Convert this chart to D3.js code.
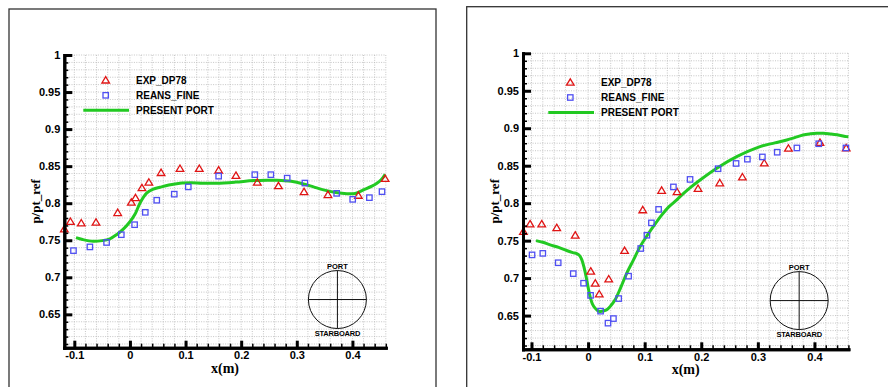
<!DOCTYPE html>
<html>
<head>
<meta charset="utf-8">
<script src="https://cdn.jsdelivr.net/npm/d3@7"></script>
<style>
body { margin: 0; background: #fff; }
svg { display: block; }
</style>
</head>
<body>
<svg width="888" height="387"></svg>
<script>
// ---- data ----
var xTicks = [-0.1, 0, 0.1, 0.2, 0.3, 0.4];
var yTicks = [0.65, 0.7, 0.75, 0.8, 0.85, 0.9, 0.95, 1];
var seriesNames = ["EXP_DP78", "REANS_FINE", "PRESENT PORT"];

// left panel
var leftExpX = [-0.118, -0.107, -0.0875, -0.061, -0.022, 0.0025, 0.010, 0.0216, 0.034, 0.056, 0.090, 0.1247, 0.1595, 0.1906, 0.229, 0.267, 0.313, 0.356, 0.4107, 0.4588];
var leftExpY = [0.765, 0.775, 0.773, 0.774, 0.787, 0.801, 0.807, 0.8205, 0.828, 0.841, 0.8466, 0.8466, 0.8444, 0.8372, 0.828, 0.8232, 0.8153, 0.8113, 0.8103, 0.833];
var leftRansX = [-0.1015, -0.072, -0.042, -0.0155, 0.0084, 0.0276, 0.0482, 0.0797, 0.1049, 0.1595, 0.2245, 0.2533, 0.2827, 0.3145, 0.3717, 0.4005, 0.4305, 0.4532];
var leftRansY = [0.736, 0.741, 0.747, 0.7575, 0.771, 0.7877, 0.804, 0.8122, 0.822, 0.8365, 0.8385, 0.8385, 0.8338, 0.8272, 0.8133, 0.8052, 0.8075, 0.8156];
var leftLineX = [-0.097, -0.085, -0.066, -0.05, -0.036, -0.024, -0.012, 0.0, 0.009, 0.018, 0.030, 0.042, 0.054, 0.07, 0.09, 0.11, 0.13, 0.156, 0.19, 0.222, 0.25, 0.264, 0.29, 0.312, 0.33, 0.348, 0.37, 0.39, 0.405, 0.42, 0.435, 0.444, 0.452, 0.459];
var leftLineY = [0.7535, 0.751, 0.7486, 0.7495, 0.752, 0.7575, 0.765, 0.775, 0.785, 0.800, 0.8135, 0.819, 0.8215, 0.8245, 0.827, 0.8275, 0.827, 0.827, 0.8285, 0.8305, 0.831, 0.831, 0.8295, 0.826, 0.822, 0.818, 0.8145, 0.8128, 0.8132, 0.818, 0.823, 0.827, 0.832, 0.839];

// right panel
var rightExpX = [-0.1143, -0.1025, -0.0819, -0.0554, -0.0227, 0.0047, 0.0127, 0.0197, 0.0365, 0.0645, 0.0966, 0.130, 0.1572, 0.1943, 0.2327, 0.2727, 0.3113, 0.354, 0.4097, 0.4561];
var rightExpY = [0.762, 0.772, 0.772, 0.767, 0.757, 0.709, 0.693, 0.6785, 0.6986, 0.7365, 0.7908, 0.8168, 0.815, 0.8193, 0.8268, 0.8347, 0.8533, 0.873, 0.8808, 0.8735];
var rightRansX = [-0.099, -0.080, -0.0528, -0.0262, -0.008, 0.0044, 0.0221, 0.0352, 0.0448, 0.0541, 0.0716, 0.093, 0.104, 0.1119, 0.1246, 0.1508, 0.1802, 0.2297, 0.2615, 0.2815, 0.308, 0.3342, 0.369, 0.4076, 0.4556];
var rightRansY = [0.731, 0.733, 0.7205, 0.706, 0.6932, 0.677, 0.6559, 0.6399, 0.646, 0.6727, 0.7026, 0.7395, 0.7572, 0.7737, 0.7917, 0.8217, 0.8317, 0.846, 0.853, 0.8587, 0.8617, 0.868, 0.8737, 0.8793, 0.8737];
var rightLineX = [-0.092, -0.08, -0.067, -0.052, -0.038, -0.027, -0.02, -0.015, -0.011, -0.007, -0.0035, 0.0, 0.0035, 0.008, 0.0124, 0.017, 0.0212, 0.027, 0.033, 0.04, 0.0477, 0.058, 0.0684, 0.08, 0.0919, 0.1035, 0.1154, 0.13, 0.1425, 0.1567, 0.1625, 0.18, 0.198, 0.2274, 0.2627, 0.3039, 0.33, 0.351, 0.365, 0.38, 0.393, 0.404, 0.416, 0.4276, 0.44, 0.457, 0.46];
var rightLineY = [0.750, 0.7478, 0.7444, 0.741, 0.7368, 0.734, 0.7328, 0.730, 0.7244, 0.714, 0.702, 0.688, 0.6755, 0.665, 0.660, 0.6565, 0.6555, 0.656, 0.6577, 0.663, 0.671, 0.688, 0.7067, 0.724, 0.742, 0.7558, 0.7689, 0.784, 0.795, 0.8044, 0.8088, 0.8205, 0.831, 0.8467, 0.8621, 0.8755, 0.8805, 0.8844, 0.8875, 0.891, 0.8925, 0.8933, 0.8933, 0.8924, 0.8912, 0.8888, 0.8885];

var RED = "#e01414", BLUE = "#4f4ff2", GREEN = "#22c922";

var svg = d3.select("svg");

var panels = [
  { frameX: 9, frameY: 9, frameW: 427, x0: 64.3, x1: 385.8, y0: 55, y1: 347.7, xmin: -0.118,
    leg: { mx: 41.4, lx0: 19, lx1: 64.7, tx: 71.7, ty: 25.3 },
    exp: [leftExpX, leftExpY], rans: [leftRansX, leftRansY], line: [leftLineX, leftLineY] },
  { frameX: 466.7, frameY: 6.7, frameW: 440, x0: 523, x1: 848.4, y0: 53.3, y1: 349.3, xmin: -0.115,
    leg: { mx: 47.3, lx0: 25.3, lx1: 71, tx: 78, ty: 29.2 },
    exp: [rightExpX, rightExpY], rans: [rightRansX, rightRansY], line: [rightLineX, rightLineY] }
];

function zip(xs, ys) {
  return xs.map(function(d, i) { return [d, ys[i]]; });
}

function fmt(d) {
  return String(+d.toFixed(2));
}

var triPath = "M0,-3.7L3.8,2.7L-3.8,2.7Z";

function drawPanel(p) {
  // frame
  svg.append("rect")
    .attr("x", p.frameX).attr("y", p.frameY)
    .attr("width", p.frameW).attr("height", 420)
    .attr("fill", "none").attr("stroke", "#333").attr("stroke-width", 1.3);

  var x = d3.scaleLinear().domain([p.xmin, 0.46]).range([p.x0, p.x1]);
  var y = d3.scaleLinear().domain([0.605, 1]).range([p.y1, p.y0]);

  var xMinor = d3.range(-0.1, 0.4601, 0.02).map(function(d) { return +d.toFixed(2); });
  var yMinor = d3.range(0.61, 1.0001, 0.01).map(function(d) { return +d.toFixed(2); });

  // dotted grid
  var grid = svg.append("g").attr("class", "grid")
    .attr("stroke", "#b8b8b8").attr("stroke-width", 0.8).attr("stroke-dasharray", "1,1.4");
  grid.selectAll("line.v").data(xMinor).enter().append("line")
    .attr("x1", function(d) { return x(d); }).attr("x2", function(d) { return x(d); })
    .attr("y1", p.y0).attr("y2", p.y1);
  grid.selectAll("line.h").data(yMinor).enter().append("line")
    .attr("x1", p.x0).attr("x2", p.x1)
    .attr("y1", function(d) { return y(d); }).attr("y2", function(d) { return y(d); });

  // series
  var line = d3.line()
    .x(function(d) { return x(d[0]); })
    .y(function(d) { return y(d[1]); })
    .curve(d3.curveCatmullRom.alpha(0.5));

  svg.append("path")
    .datum(zip(p.line[0], p.line[1]))
    .attr("d", line)
    .attr("fill", "none").attr("stroke", GREEN).attr("stroke-width", 3);

  svg.append("g").selectAll("path")
    .data(zip(p.exp[0], p.exp[1]))
    .enter().append("path")
    .attr("d", triPath)
    .attr("transform", function(d) { return "translate(" + x(d[0]) + "," + y(d[1]) + ")"; })
    .attr("fill", "none").attr("stroke", RED).attr("stroke-width", 1.3);

  svg.append("g").selectAll("rect")
    .data(zip(p.rans[0], p.rans[1]))
    .enter().append("rect")
    .attr("x", function(d) { return x(d[0]) - 2.7; })
    .attr("y", function(d) { return y(d[1]) - 2.7; })
    .attr("width", 5.4).attr("height", 5.4)
    .attr("fill", "none").attr("stroke", BLUE).attr("stroke-width", 1.3);

  // axes: minor ticks, then major ticks + labels
  var gy = svg.append("g").attr("transform", "translate(" + p.x0 + ",0)");
  gy.call(d3.axisLeft(y).tickValues(yMinor).tickFormat("").tickSize(-4).tickSizeOuter(0));
  gy.selectAll(".tick line").attr("stroke-width", 1.5);
  var gy2 = svg.append("g").attr("transform", "translate(" + p.x0 + ",0)");
  gy2.call(d3.axisLeft(y).tickValues(yTicks).tickFormat(fmt).tickSize(-8).tickSizeOuter(0).tickPadding(4));
  gy2.selectAll(".tick line").attr("stroke-width", 3);

  var gx = svg.append("g").attr("transform", "translate(0," + p.y1 + ")");
  gx.call(d3.axisBottom(x).tickValues(xMinor).tickFormat("").tickSize(-4).tickSizeOuter(0));
  gx.selectAll(".tick line").attr("stroke-width", 1.5);
  var gx2 = svg.append("g").attr("transform", "translate(0," + p.y1 + ")");
  gx2.call(d3.axisBottom(x).tickValues(xTicks).tickFormat(fmt).tickSize(-7).tickSizeOuter(0).tickPadding(4));
  gx2.selectAll(".tick line").attr("stroke-width", 3);

  [gy, gy2, gx, gx2].forEach(function(g) {
    g.select(".domain").attr("stroke-width", 3).attr("stroke-linecap", "square");
    g.selectAll("text")
      .attr("font-family", "'Liberation Sans', Arial, sans-serif")
      .attr("font-weight", "bold").attr("font-size", 11).attr("fill", "#000");
  });

  // axis titles
  svg.append("text")
    .attr("x", (p.x0 + p.x1) / 2).attr("y", p.y1 + 25)
    .attr("text-anchor", "middle")
    .attr("font-family", "'Liberation Serif', 'Times New Roman', serif")
    .attr("font-weight", "bold").attr("font-size", 14)
    .text("x(m)");
  svg.append("text")
    .attr("transform", "translate(" + (p.x0 - 29) + "," + ((p.y0 + p.y1) / 2) + ") rotate(-90)")
    .attr("dy", "0.35em")
    .attr("text-anchor", "middle")
    .attr("font-family", "'Liberation Serif', 'Times New Roman', serif")
    .attr("font-weight", "bold").attr("font-size", 13)
    .text("p/pt_ref");

  // legend
  var lg = svg.append("g").attr("transform", "translate(" + p.x0 + "," + p.y0 + ")");
  var rows = [p.leg.ty, p.leg.ty + 15, p.leg.ty + 30];
  lg.append("path").attr("d", triPath)
    .attr("transform", "translate(" + p.leg.mx + "," + rows[0] + ")")
    .attr("fill", "none").attr("stroke", RED).attr("stroke-width", 1.3);
  lg.append("rect")
    .attr("x", p.leg.mx - 2.7).attr("y", rows[1] - 2.7)
    .attr("width", 5.4).attr("height", 5.4)
    .attr("fill", "none").attr("stroke", BLUE).attr("stroke-width", 1.3);
  lg.append("line")
    .attr("x1", p.leg.lx0).attr("x2", p.leg.lx1)
    .attr("y1", rows[2]).attr("y2", rows[2])
    .attr("stroke", GREEN).attr("stroke-width", 3);
  lg.selectAll("text.leg").data(seriesNames).enter().append("text")
    .attr("x", p.leg.tx)
    .attr("y", function(d, i) { return rows[i]; })
    .attr("dy", "0.36em")
    .attr("font-family", "'Liberation Sans', Arial, sans-serif")
    .attr("font-weight", "bold").attr("font-size", 10)
    .text(function(d) { return d; });

  // port / starboard section sketch
  var cx = x(0.373), cy = y(0.67), r = 29;
  var sk = svg.append("g").attr("stroke", "#111").attr("stroke-width", 1).attr("fill", "none");
  sk.append("circle").attr("cx", cx).attr("cy", cy).attr("r", r);
  sk.append("line").attr("x1", cx - r).attr("x2", cx + r).attr("y1", cy).attr("y2", cy);
  sk.append("line").attr("x1", cx).attr("x2", cx).attr("y1", cy - r).attr("y2", cy + r);
  svg.append("text")
    .attr("x", cx).attr("y", cy - 33.5).attr("dy", "0.36em")
    .attr("text-anchor", "middle")
    .attr("font-family", "'Liberation Sans', Arial, sans-serif")
    .attr("font-weight", "bold").attr("font-size", 7.5)
    .text("PORT");
  svg.append("text")
    .attr("x", cx).attr("y", cy + 33.3).attr("dy", "0.36em")
    .attr("text-anchor", "middle")
    .attr("font-family", "'Liberation Sans', Arial, sans-serif")
    .attr("font-weight", "bold").attr("font-size", 7.5)
    .attr("letter-spacing", -0.2)
    .text("STARBOARD");
}

panels.forEach(drawPanel);
</script>
</body>
</html>
